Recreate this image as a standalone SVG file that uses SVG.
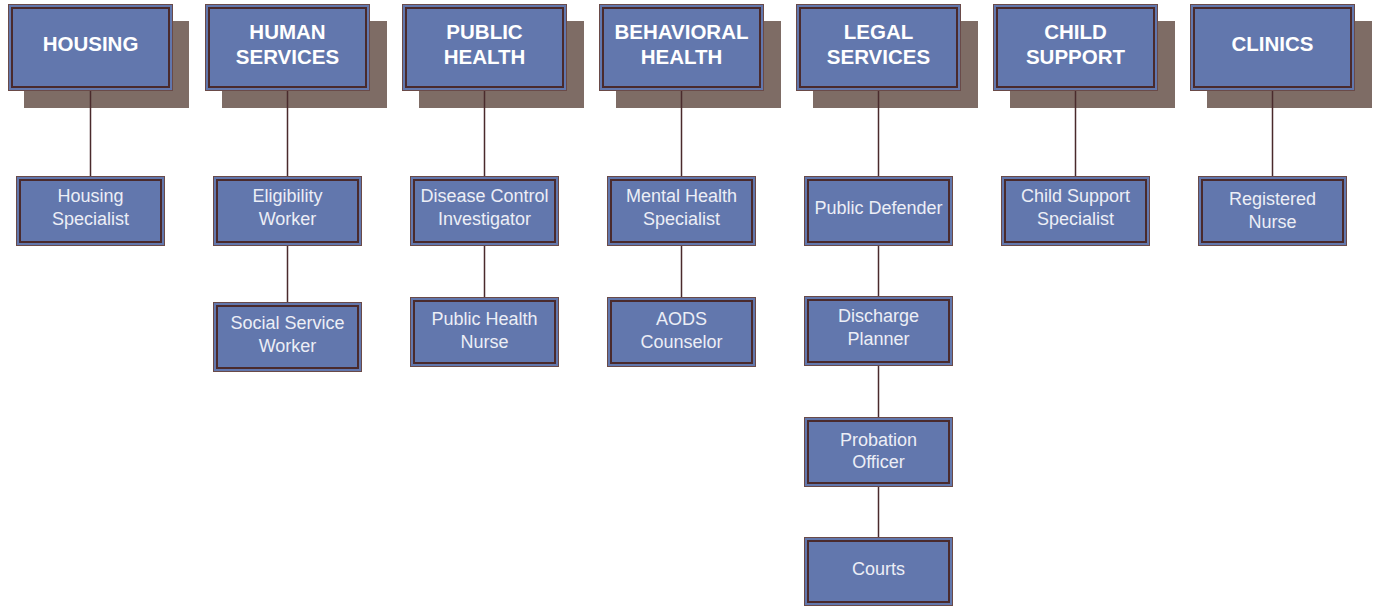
<svg xmlns="http://www.w3.org/2000/svg" width="1376" height="607" viewBox="0 0 1376 607">
<defs>
<style>
.sh{fill:#7e6c65}
.o{fill:#6277ad;stroke:#6a4a48;stroke-width:1}
.i{fill:none;stroke:#4a2a2c;stroke-width:2}
.h{font-family:"Liberation Sans",Arial,sans-serif;font-weight:bold;font-size:20.5px;fill:#ffffff;text-anchor:middle}
.t{font-family:"Liberation Sans",Arial,sans-serif;font-size:18px;fill:#eceef6;text-anchor:middle}
.c{stroke:#4a2a2c;stroke-width:1.5;fill:none}
</style>
</defs>
<rect width="1376" height="607" fill="#ffffff"/>
<g id="housing"><rect class="sh" x="24" y="21" width="165" height="87"/><rect class="o" x="8.5" y="4.5" width="164" height="86"/><rect class="i" x="12" y="8" width="157" height="79"/><text class="h" x="90.5" y="51">HOUSING</text></g>
<g id="human-services"><rect class="sh" x="222" y="21" width="165" height="87"/><rect class="o" x="205.5" y="4.5" width="164" height="86"/><rect class="i" x="209" y="8" width="157" height="79"/><text class="h" x="287.5" y="39">HUMAN</text><text class="h" x="287.5" y="64">SERVICES</text></g>
<g id="public-health"><rect class="sh" x="419" y="21" width="165" height="87"/><rect class="o" x="402.5" y="4.5" width="164" height="86"/><rect class="i" x="406" y="8" width="157" height="79"/><text class="h" x="484.5" y="39">PUBLIC</text><text class="h" x="484.5" y="64">HEALTH</text></g>
<g id="behavioral-health"><rect class="sh" x="616" y="21" width="165" height="87"/><rect class="o" x="599.5" y="4.5" width="164" height="86"/><rect class="i" x="603" y="8" width="157" height="79"/><text class="h" x="681.5" y="39">BEHAVIORAL</text><text class="h" x="681.5" y="64">HEALTH</text></g>
<g id="legal-services"><rect class="sh" x="813" y="21" width="165" height="87"/><rect class="o" x="796.5" y="4.5" width="164" height="86"/><rect class="i" x="800" y="8" width="157" height="79"/><text class="h" x="878.5" y="39">LEGAL</text><text class="h" x="878.5" y="64">SERVICES</text></g>
<g id="child-support"><rect class="sh" x="1010" y="21" width="165" height="87"/><rect class="o" x="993.5" y="4.5" width="164" height="86"/><rect class="i" x="997" y="8" width="157" height="79"/><text class="h" x="1075.5" y="39">CHILD</text><text class="h" x="1075.5" y="64">SUPPORT</text></g>
<g id="clinics"><rect class="sh" x="1207" y="21" width="165" height="87"/><rect class="o" x="1190.5" y="4.5" width="164" height="86"/><rect class="i" x="1194" y="8" width="157" height="79"/><text class="h" x="1272.5" y="51">CLINICS</text></g>

<g id="housing-specialist"><rect class="o" x="16.5" y="176.5" width="148" height="69"/><rect class="i" x="20" y="180" width="141" height="62"/><text class="t" x="90.5" y="202">Housing</text><text class="t" x="90.5" y="225">Specialist</text></g>
<g id="eligibility-worker"><rect class="o" x="213.5" y="176.5" width="148" height="69"/><rect class="i" x="217" y="180" width="141" height="62"/><text class="t" x="287.5" y="202">Eligibility</text><text class="t" x="287.5" y="225">Worker</text></g>
<g id="social-service-worker"><rect class="o" x="213.5" y="302.5" width="148" height="69"/><rect class="i" x="217" y="306" width="141" height="62"/><text class="t" x="287.5" y="329">Social Service</text><text class="t" x="287.5" y="352">Worker</text></g>
<g id="disease-control-investigator"><rect class="o" x="410.5" y="176.5" width="148" height="69"/><rect class="i" x="414" y="180" width="141" height="62"/><text class="t" x="484.5" y="202">Disease Control</text><text class="t" x="484.5" y="225">Investigator</text></g>
<g id="public-health-nurse"><rect class="o" x="410.5" y="297.5" width="148" height="69"/><rect class="i" x="414" y="301" width="141" height="62"/><text class="t" x="484.5" y="325">Public Health</text><text class="t" x="484.5" y="348">Nurse</text></g>
<g id="mental-health-specialist"><rect class="o" x="607.5" y="176.5" width="148" height="69"/><rect class="i" x="611" y="180" width="141" height="62"/><text class="t" x="681.5" y="202">Mental Health</text><text class="t" x="681.5" y="225">Specialist</text></g>
<g id="aods-counselor"><rect class="o" x="607.5" y="297.5" width="148" height="69"/><rect class="i" x="611" y="301" width="141" height="62"/><text class="t" x="681.5" y="325">AODS</text><text class="t" x="681.5" y="348">Counselor</text></g>
<g id="public-defender"><rect class="o" x="804.5" y="176.5" width="148" height="69"/><rect class="i" x="808" y="180" width="141" height="62"/><text class="t" x="878.5" y="214">Public Defender</text></g>
<g id="discharge-planner"><rect class="o" x="804.5" y="296.5" width="148" height="69"/><rect class="i" x="808" y="300" width="141" height="62"/><text class="t" x="878.5" y="322">Discharge</text><text class="t" x="878.5" y="345">Planner</text></g>
<g id="probation-officer"><rect class="o" x="804.5" y="417.5" width="148" height="69"/><rect class="i" x="808" y="421" width="141" height="62"/><text class="t" x="878.5" y="446">Probation</text><text class="t" x="878.5" y="468">Officer</text></g>
<g id="courts"><rect class="o" x="804.5" y="537.5" width="148" height="68"/><rect class="i" x="808" y="541" width="141" height="61"/><text class="t" x="878.5" y="575">Courts</text></g>
<g id="child-support-specialist"><rect class="o" x="1001.5" y="176.5" width="148" height="69"/><rect class="i" x="1005" y="180" width="141" height="62"/><text class="t" x="1075.5" y="202">Child Support</text><text class="t" x="1075.5" y="225">Specialist</text></g>
<g id="registered-nurse"><rect class="o" x="1198.5" y="176.5" width="148" height="69"/><rect class="i" x="1202" y="180" width="141" height="62"/><text class="t" x="1272.5" y="205">Registered</text><text class="t" x="1272.5" y="228">Nurse</text></g>
<g id="connectors">
<path class="c" d="M90.5 91V176M287.5 91V176M287.5 246V302M484.5 91V176M484.5 246V297M681.5 91V176M681.5 246V297M878.5 91V176M878.5 246V296M878.5 366V417M878.5 487V537M1075.5 91V176M1272.5 91V176"/>
</g>
</svg>
